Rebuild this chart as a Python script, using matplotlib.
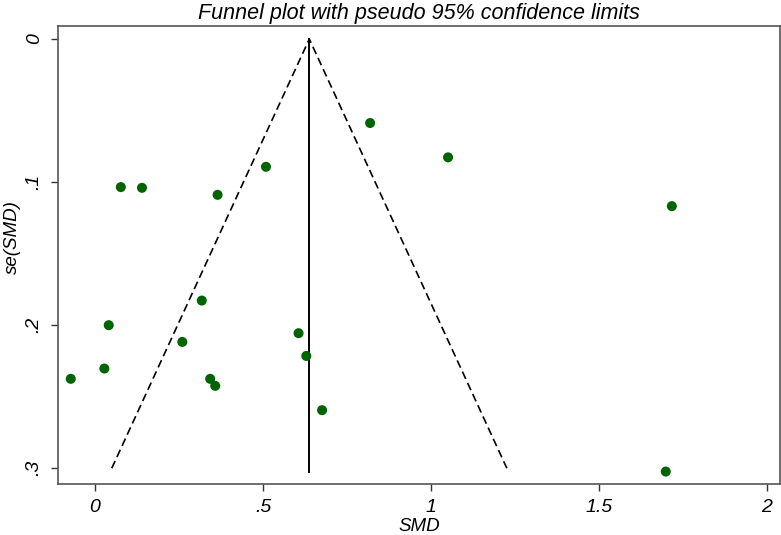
import matplotlib
matplotlib.use("Agg")
import matplotlib.pyplot as plt
import numpy as np

plt.rcParams['font.family'] = ['Liberation Sans', 'DejaVu Sans']

smd = [0.819, 1.051, 0.509, 0.077, 0.140, 0.365, 1.717, 0.318, 0.041, 0.606,
       0.260, 0.629, 0.028, -0.072, 0.343, 0.358, 0.676, 1.699]
se = [0.0587, 0.0827, 0.0893, 0.1035, 0.1040, 0.1089, 0.1168, 0.1828, 0.2000, 0.2056,
      0.2117, 0.2215, 0.2303, 0.2375, 0.2375, 0.2424, 0.2594, 0.3023]
pooled = 0.638
se_max_limit = 0.30
xticks = [0, 0.5, 1, 1.5, 2]
xticklabels = ["0", ".5", "1", "1.5", "2"]
yticks = [0, 0.1, 0.2, 0.3]
yticklabels = ["0", ".1", ".2", ".3"]

fig = plt.figure(figsize=(7.81, 5.35), dpi=100)
ax = fig.add_axes([58/781, 1-484/535, (780-58)/781, (484-26)/535])

# funnel limits
ax.plot([pooled - 1.96*se_max_limit, pooled, pooled + 1.96*se_max_limit],
        [se_max_limit, 0, se_max_limit], color='black', lw=1.2, ls=(0, (4.8, 2.6)))
ax.plot([pooled, pooled], [0, max(se)], color='black', lw=1.4)

ax.scatter(smd, se, s=52, color='#006400', zorder=3, edgecolors='none')

ax.set_xlim(-0.110, 2.039)
ax.set_ylim(0.311, -0.0091)

ax.set_xticks(xticks)
ax.set_xticklabels(xticklabels, fontstyle='italic', fontsize=14)
ax.set_yticks(yticks)
ax.set_yticklabels(yticklabels, fontstyle='italic', fontsize=14, rotation=90, va='center')
ax.tick_params(direction='out', length=5, width=1, color='#333333')
ax.tick_params(axis='x', pad=6)
ax.tick_params(axis='y', pad=6)

for s in ax.spines.values():
    s.set_color('#555555')
    s.set_linewidth(1.2)

ax.set_xlabel('SMD', fontstyle='italic', fontsize=13.5)
ax.xaxis.set_label_coords(0.5, -0.074)
ax.set_ylabel('se(SMD)', fontstyle='italic', fontsize=13.5)
ax.yaxis.set_label_coords(-0.052, 0.539)
ax.set_title('Funnel plot with pseudo 95% confidence limits', fontstyle='italic', fontsize=15.5, pad=5)

fig.savefig('out.png', dpi=100)
